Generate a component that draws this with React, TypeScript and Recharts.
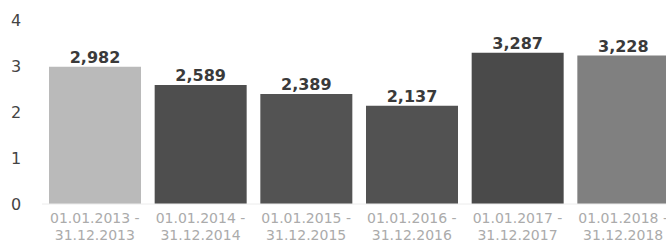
import React from 'react'
import { Bar, BarChart, Cell, LabelList, XAxis, YAxis } from 'recharts'

const periodStarts = ['01.01.2013', '01.01.2014', '01.01.2015', '01.01.2016', '01.01.2017', '01.01.2018']
const periodEnds = ['31.12.2013', '31.12.2014', '31.12.2015', '31.12.2016', '31.12.2017', '31.12.2018']
const values = [2.982, 2.589, 2.389, 2.137, 3.287, 3.228]
const barColors = ['#bababa', '#4e4e4e', '#535353', '#525252', '#4a4a4a', '#808080']
const yTicks = [0, 1, 2, 3, 4]

const data = values.map((v, i) => ({
    period: periodStarts[i] + ' - ' + periodEnds[i],
    start: periodStarts[i],
    end: periodEnds[i],
    value: v
}))

const font = '"DejaVu Sans", sans-serif'

const XTick = (props: any) => {
    const { x, y, index } = props
    return (
        <g>
            <text x={x} y={y + 19} textAnchor="middle" fontSize={14} fill="#ababab" fontFamily={font}>
                {periodStarts[index] + ' -'}
            </text>
            <text x={x} y={y + 36} textAnchor="middle" fontSize={14} fill="#ababab" fontFamily={font}>
                {periodEnds[index]}
            </text>
        </g>
    )
}

const YTick = (props: any) => {
    const { y, payload } = props
    return (
        <text x={16} y={y} dy="0.355em" textAnchor="middle" fontSize={16} fill="#444" fontFamily={font}>
            {payload.value}
        </text>
    )
}

export default function App() {
    return (
        <div style={{ position: 'fixed', top: 0, left: 0, width: 666, height: 244, overflow: 'hidden', background: '#fff' }}>
            <BarChart
                width={676}
                height={244}
                data={data}
                margin={{ top: 20, right: 0, left: 0, bottom: 0 }}
                barCategoryGap={7}
            >
                <XAxis
                    dataKey="period"
                    height={40}
                    tickSize={0}
                    tickMargin={0}
                    axisLine={{ stroke: '#ececec' }}
                    tickLine={false}
                    interval={0}
                    tick={<XTick />}
                />
                <YAxis
                    width={42}
                    domain={[0, 4]}
                    ticks={yTicks}
                    axisLine={false}
                    tickLine={false}
                    tick={<YTick />}
                />
                <Bar dataKey="value" isAnimationActive={false}>
                    {data.map((d, i) => (
                        <Cell key={d.period} fill={barColors[i]} />
                    ))}
                    <LabelList
                        dataKey="value"
                        position="top"
                        offset={4}
                        formatter={(v: any) => Number(v).toFixed(3).replace('.', ',')}
                        style={{ fontSize: 16, fontWeight: 'bold', fill: '#3a3a3a', fontFamily: font }}
                    />
                </Bar>
            </BarChart>
        </div>
    )
}
